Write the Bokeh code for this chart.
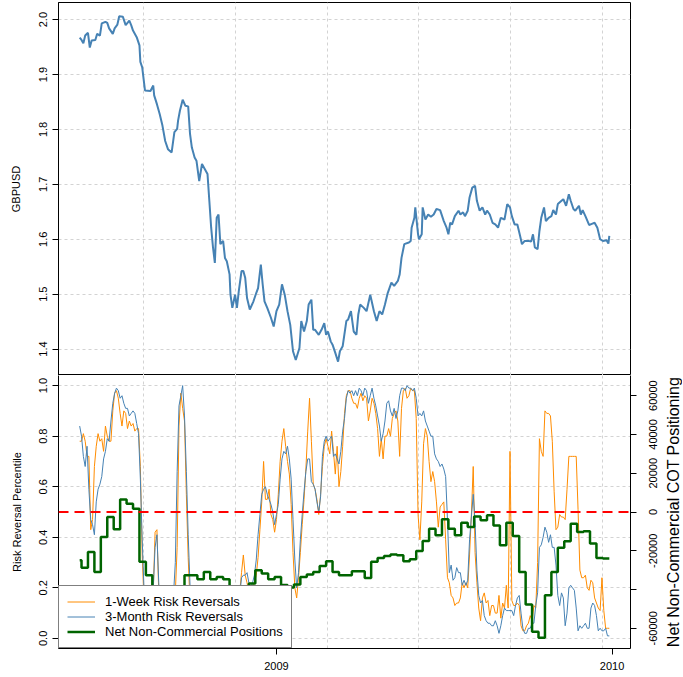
import math
import numpy as np
from bokeh.plotting import figure
from bokeh.models import (Range1d, LinearAxis, FixedTicker, Grid, Span, Legend, LegendItem,
                          PrintfTickFormatter, Spacer)
from bokeh.core.properties import value
from bokeh.layouts import column, row
from bokeh.embed import file_html
from bokeh.resources import INLINE

FONT = "Liberation Sans"

# ---------------- data ----------------
series_start = "2008-06-01"

# GBPUSD close: day offsets from series_start and values
gbp_offset_days = [
    0, 2, 4, 6, 9, 11, 13, 17, 19, 22, 24, 28, 30, 32, 36, 38, 41, 43, 47, 50,
    54, 56, 58, 62, 65, 66, 68, 71, 77, 80, 81, 84, 87, 90, 93, 96, 100, 103, 106, 107,
    109, 112, 115, 118, 120, 122, 125, 127, 130, 133, 136, 139, 141, 143, 145, 147, 149, 151, 153, 156,
    158, 160, 163, 164, 166, 169, 171, 173, 176, 178, 180, 182, 185, 189, 192, 194, 197, 199, 201, 204,
    208, 211, 214, 217, 220, 223, 226, 229, 232, 235, 239, 241, 244, 247, 249, 252, 254, 256, 260, 263,
    266, 268, 270, 273, 275, 278, 281, 283, 286, 290, 292, 295, 298, 301, 303, 305, 309, 312, 316, 320,
    323, 326, 329, 332, 335, 339, 342, 346, 348, 350, 353, 358, 360, 361, 364, 365, 368, 369, 372, 373,
    376, 379, 382, 385, 388, 392, 396, 399, 401, 403, 405, 408, 412, 414, 417, 419, 422, 424, 427, 430,
    432, 435, 438, 441, 443, 446, 449, 452, 455, 458, 462, 465, 468, 470, 473, 476, 479, 481, 484, 488,
    491, 493, 495, 498, 500, 502, 505, 507, 510, 513, 515, 518, 520, 524, 526, 529, 532, 534, 537, 539,
    543, 545, 547, 550, 554, 557, 560, 563, 566, 569, 573, 575, 576]
gbp_close = [
    1.967, 1.963, 1.957, 1.971, 1.976, 1.949, 1.962, 1.963, 1.974, 1.971, 1.993, 1.996, 1.994, 1.984, 1.974, 1.984, 1.991, 2.006, 2.005, 1.990,
    1.998, 1.990, 1.980, 1.968, 1.953, 1.923, 1.913, 1.871, 1.870, 1.880, 1.862, 1.846, 1.828, 1.807, 1.779, 1.764, 1.758, 1.795, 1.801, 1.816,
    1.834, 1.854, 1.843, 1.842, 1.792, 1.767, 1.749, 1.743, 1.706, 1.737, 1.728, 1.719, 1.670, 1.621, 1.585, 1.557, 1.639, 1.645, 1.591, 1.597,
    1.566, 1.560, 1.536, 1.499, 1.475, 1.499, 1.475, 1.505, 1.542, 1.542, 1.530, 1.493, 1.472, 1.487, 1.502, 1.511, 1.554, 1.518, 1.487, 1.475,
    1.457, 1.441, 1.469, 1.481, 1.518, 1.499, 1.469, 1.444, 1.396, 1.380, 1.402, 1.451, 1.432, 1.451, 1.481, 1.490, 1.435, 1.435, 1.426, 1.435,
    1.447, 1.426, 1.432, 1.414, 1.408, 1.393, 1.377, 1.396, 1.405, 1.451, 1.454, 1.469, 1.432, 1.426, 1.463, 1.481, 1.475, 1.469, 1.499, 1.469,
    1.451, 1.469, 1.463, 1.481, 1.502, 1.521, 1.515, 1.524, 1.536, 1.566, 1.591, 1.594, 1.597, 1.621, 1.639, 1.658, 1.609, 1.600, 1.609, 1.658,
    1.636, 1.645, 1.641, 1.645, 1.655, 1.653, 1.633, 1.621, 1.609, 1.630, 1.627, 1.642, 1.652, 1.645, 1.649, 1.642, 1.652, 1.676, 1.694, 1.697,
    1.670, 1.652, 1.658, 1.645, 1.652, 1.645, 1.630, 1.627, 1.621, 1.639, 1.636, 1.664, 1.658, 1.642, 1.627, 1.627, 1.606, 1.591, 1.597, 1.597,
    1.596, 1.609, 1.585, 1.582, 1.615, 1.639, 1.658, 1.633, 1.639, 1.642, 1.653, 1.645, 1.664, 1.670, 1.673, 1.661, 1.682, 1.670, 1.655, 1.652,
    1.661, 1.645, 1.653, 1.642, 1.626, 1.628, 1.630, 1.621, 1.600, 1.597, 1.598, 1.592, 1.606]

# Risk reversal percentiles, one reading every 2 days from series_start
rr_step_days = 2
rr_1week = [
    0.78, 0.78, 0.81, 0.78, 0.72, 0.72, 0.43, 0.47, 0.68, 0.76,
    0.81, 0.78, 0.79, 0.74, 0.84, 0.80, 0.78, 0.78, 0.90, 0.97,
    0.98, 0.95, 0.89, 0.84, 0.90, 0.89, 0.83, 0.86, 0.84, 0.85,
    0.82, 0.83, 0.83, 0.68, 0.33, 0.14, 0.07, 0.04, 0.05, 0.09,
    0.18, 0.42, 0.43, 0.18, 0.07, 0.04, 0.03, 0.05, 0.04, 0.07,
    0.09, 0.13, 0.18, 0.36, 0.84, 0.97, 0.91, 0.86, 0.57, 0.32,
    0.14, 0.08, 0.05, 0.03, 0.06, 0.10, 0.07, 0.04, 0.08, 0.12,
    0.09, 0.05, 0.03, 0.06, 0.10, 0.14, 0.08, 0.05, 0.07, 0.11,
    0.06, 0.04, 0.08, 0.12, 0.09, 0.14, 0.16, 0.18, 0.26, 0.33,
    0.25, 0.22, 0.18, 0.18, 0.20, 0.22, 0.25, 0.32, 0.43, 0.54,
    0.70, 0.55, 0.55, 0.59, 0.49, 0.47, 0.42, 0.47, 0.57, 0.70,
    0.78, 0.83, 0.76, 0.70, 0.65, 0.53, 0.34, 0.20, 0.16, 0.24,
    0.34, 0.45, 0.55, 0.67, 0.82, 0.95, 0.78, 0.61, 0.59, 0.55,
    0.49, 0.57, 0.68, 0.76, 0.79, 0.76, 0.73, 0.82, 0.74, 0.65,
    0.76, 0.60, 0.66, 0.76, 0.89, 0.96, 0.98,
    0.98, 0.95, 0.93, 0.93, 0.91, 0.95, 0.97, 0.94, 0.96, 0.95,
    0.86, 0.90, 0.95, 0.93, 0.89, 0.83, 0.72, 0.79, 0.71, 0.80,
    0.80, 0.83, 0.80, 0.87, 0.89, 0.90, 0.86, 0.72, 0.91, 0.98,
    0.99, 0.95, 0.96, 0.99, 0.98, 0.98, 0.87, 0.49, 0.39, 0.54,
    0.77, 0.83, 0.80, 0.70, 0.62, 0.66, 0.62, 0.54, 0.44, 0.52,
    0.53, 0.54, 0.39, 0.24, 0.22, 0.17, 0.16, 0.13, 0.14, 0.14,
    0.16, 0.22, 0.20, 0.22, 0.20, 0.33, 0.49, 0.68, 0.34, 0.22,
    0.12, 0.07, 0.16, 0.18, 0.14, 0.15, 0.09, 0.13, 0.13, 0.10,
    0.10, 0.17, 0.08, 0.14, 0.12, 0.21, 0.12, 0.74, 0.15, 0.13,
    0.13, 0.14, 0.13, 0.05, 0.03, 0.03, 0.05, 0.06, 0.09, 0.07,
    0.13, 0.12, 0.30, 0.79, 0.74, 0.72, 0.90, 0.89, 0.89, 0.88,
    0.78, 0.58, 0.43, 0.44, 0.49, 0.48, 0.48, 0.47, 0.59, 0.72,
    0.72, 0.72, 0.72, 0.72, 0.51, 0.27, 0.24, 0.24, 0.25, 0.20,
    0.19, 0.23, 0.22, 0.16, 0.14, 0.12, 0.11, 0.24, 0.11, 0.04,
    0.04, 0.04]
rr_3month = [
    0.84, 0.80, 0.72, 0.68, 0.76, 0.59, 0.47, 0.45, 0.41, 0.54,
    0.59, 0.61, 0.64, 0.71, 0.74, 0.79, 0.78, 0.86, 0.93, 0.97,
    0.99, 0.98, 0.95, 0.96, 0.93, 0.91, 0.91, 0.88, 0.89, 0.90,
    0.89, 0.85, 0.81, 0.63, 0.39, 0.19, 0.09, 0.05, 0.07, 0.12,
    0.20, 0.36, 0.41, 0.22, 0.09, 0.05, 0.04, 0.07, 0.05, 0.08,
    0.12, 0.17, 0.30, 0.66, 0.92, 0.96, 1.00, 0.88, 0.66, 0.41,
    0.21, 0.10, 0.06, 0.04, 0.05, 0.08, 0.09, 0.06, 0.07, 0.10,
    0.11, 0.07, 0.05, 0.04, 0.07, 0.11, 0.10, 0.06, 0.05, 0.09,
    0.08, 0.05, 0.06, 0.10, 0.11, 0.12, 0.15, 0.17, 0.24, 0.25,
    0.25, 0.26, 0.22, 0.20, 0.22, 0.25, 0.31, 0.41, 0.49, 0.57,
    0.59, 0.60, 0.57, 0.55, 0.53, 0.50, 0.45, 0.49, 0.53, 0.63,
    0.71, 0.74, 0.73, 0.76, 0.71, 0.63, 0.47, 0.31, 0.20, 0.26,
    0.39, 0.49, 0.58, 0.66, 0.71, 0.71, 0.62, 0.61, 0.59, 0.54,
    0.50, 0.56, 0.72, 0.78, 0.80, 0.78, 0.79, 0.80, 0.72, 0.73,
    0.71, 0.69, 0.74, 0.82, 0.87, 0.95, 0.98,
    0.97, 0.98, 0.96, 0.98, 0.96, 0.99, 0.98, 0.96, 0.99, 0.98,
    0.93, 0.96, 0.99, 0.95, 0.92, 0.88, 0.84, 0.78, 0.81, 0.86,
    0.93, 0.94, 0.90, 0.88, 0.91, 0.87, 0.90, 0.96, 0.99, 0.99,
    0.98, 1.00, 0.99, 0.99, 0.98, 0.99, 0.95, 0.88, 0.89, 0.88,
    0.90, 0.86, 0.84, 0.82, 0.80, 0.80, 0.73, 0.71, 0.70, 0.68,
    0.69, 0.67, 0.64, 0.47, 0.26, 0.29, 0.23, 0.24, 0.28, 0.26,
    0.26, 0.21, 0.23, 0.21, 0.23, 0.39, 0.48, 0.57, 0.46, 0.27,
    0.17, 0.14, 0.15, 0.09, 0.07, 0.06, 0.06, 0.05, 0.05, 0.07,
    0.05, 0.02, 0.05, 0.09, 0.12, 0.11, 0.11, 0.11, 0.11, 0.09,
    0.13, 0.16, 0.17, 0.10, 0.04, 0.02, 0.02, 0.04, 0.04, 0.06,
    0.06, 0.13, 0.18, 0.36, 0.37, 0.40, 0.44, 0.42, 0.38, 0.41,
    0.36, 0.36, 0.29, 0.17, 0.13, 0.18, 0.16, 0.05, 0.10, 0.20,
    0.21, 0.20, 0.19, 0.12, 0.03, 0.05, 0.04, 0.05, 0.06, 0.04,
    0.04, 0.12, 0.14, 0.13, 0.09, 0.03, 0.04, 0.03, 0.03, 0.04,
    0.01, 0.01]

# Weekly net non-commercial COT positions (contracts), first report date then every 7 days
cot_first_report = "2008-05-27"
cot_net = [
    -24900, -28800, -20600, -30900, -12900, -2600, -8900, 6500, 4300, 1700,
    -25700, -32600, -42900, -48000, -49800, -48000, -44600, -32600, -32600, -34700,
    -30900, -34700, -33500, -34700, -41200, -42900, -38600, -36900, -30000, -31700,
    -34700, -33500, -37700, -39000, -37400, -33500, -32200, -30900, -27800, -25400,
    -30900, -32600, -32600, -30500, -30500, -34000, -25700, -23700, -22700, -21900,
    -22300, -25400, -24400, -20100, -14900, -8600, -12000, -3800, -8600, -12000,
    -5500, -7700, -2300, -4300, -1700, -6900, -17200, -5500, -12400, -30900,
    -47700, -61800, -64800, -42900, -30900, -18500, -15100, -6000, -10300, -9900,
    -16300, -23700, -24000]

gbp_ticks = [1.4, 1.5, 1.6, 1.7, 1.8, 1.9, 2.0]
rr_ticks = [0.0, 0.2, 0.4, 0.6, 0.8, 1.0]
cot_ticks = [-60000, -40000, -20000, 0, 20000, 40000, 60000]
cot_unlabelled_ticks = [-40000]
year_tick_dates = ["2009-01-01", "2010-01-01"]
year_tick_labels = ["2009", "2010"]
neutral_percentile = 0.5
cot_axis_limit = 70400
cot_axis_title = "Net Non-Commercial COT Positioning"

# ---------------- derived x values ----------------
def to_day(d):
    return int(np.datetime64(d, "D").astype(np.int64))

start_day = to_day(series_start)
gbp_x = start_day + np.array(gbp_offset_days)
rr_x = start_day + rr_step_days * np.arange(len(rr_1week))
cot_x = to_day(cot_first_report) + 7 * np.arange(len(cot_net))
cot_x = np.maximum(cot_x, gbp_x[0])
cot_x = np.append(cot_x, gbp_x[-1])
cot_y = list(cot_net) + [cot_net[-1]]

x_lo, x_hi = int(gbp_x.min()), int(gbp_x.max())
x_pad = 0.04 * (x_hi - x_lo)
x_range = Range1d(x_lo - x_pad, x_hi + x_pad)
grid_days = [d for d in range(14000, 14800, 100) if x_lo - x_pad <= d <= x_hi + x_pad]

g_lo, g_hi = min(gbp_close), max(gbp_close)
g_pad = 0.04 * (g_hi - g_lo)

year_days = [to_day(d) for d in year_tick_dates]

# ---------------- layout constants ----------------
MAIN_W = 638          # frame 58..630 + 8px for right ticks
SIDE_W = 44
TOP_H = 375           # frame 2..375
BOT_H = 301           # frame 375..648 + labels
GRID_COLOR = "#d3d3d3"


def style_axis(ax):
    ax.axis_line_color = "black"
    ax.major_tick_line_color = "black"
    ax.minor_tick_line_color = None
    ax.major_tick_out = 6
    ax.major_tick_in = 0
    ax.major_label_text_font = FONT
    ax.major_label_text_font_size = "11px"
    ax.major_label_text_color = "black"
    ax.axis_label_text_font = FONT
    ax.axis_label_text_font_style = "normal"
    ax.axis_label_text_color = "black"
    ax.axis_label_text_font_size = "11px"


def add_grid(p, dim, ticks):
    g = Grid(dimension=dim, ticker=FixedTicker(ticks=ticks),
             grid_line_color=GRID_COLOR, grid_line_dash="3 3", grid_line_width=1)
    p.add_layout(g)


def base_fig(height, y_range, top, bottom, x_axis):
    p = figure(width=MAIN_W, height=height, x_range=x_range, y_range=y_range,
               x_axis_location=x_axis, toolbar_location=None, output_backend="svg",
               min_border_left=58, min_border_right=8,
               min_border_top=top, min_border_bottom=bottom)
    p.grid.visible = False
    p.outline_line_color = "black"
    p.outline_line_width = 1
    p.outline_line_alpha = 1
    p.background_fill_color = "white"
    p.border_fill_color = "white"
    return p


# ---------------- top panel: GBPUSD ----------------
p1 = base_fig(TOP_H, Range1d(g_lo - g_pad, g_hi + g_pad), 2, 0, None)
add_grid(p1, 0, grid_days)
add_grid(p1, 1, gbp_ticks)
p1.line(gbp_x, gbp_close, line_color="#4682B4", line_width=2)
ya = p1.yaxis[0]
style_axis(ya)
ya.ticker = FixedTicker(ticks=gbp_ticks)
ya.formatter = PrintfTickFormatter(format="%.1f")
ya.major_label_orientation = "parallel"
ya.major_label_standoff = 5
ya.axis_label = "GBPUSD"
ya.axis_label_standoff = 15

# ---------------- bottom panel: risk reversals + COT ----------------
p2 = base_fig(BOT_H, Range1d(-0.04, 1.04), 0, BOT_H - 273, "below")
# the top edge is the top panel's outline; the other three edges are the axis lines
p2.outline_line_color = None
p2.extra_y_ranges = {"cot": Range1d(-cot_axis_limit, cot_axis_limit)}
add_grid(p2, 0, grid_days)
add_grid(p2, 1, rr_ticks)

r_1w = p2.line(rr_x, rr_1week, line_color="#FF8C00", line_width=1)
r_3m = p2.line(rr_x, rr_3month, line_color="#4682B4", line_width=1)
p2.add_layout(Span(location=neutral_percentile, dimension="width",
                   line_color="#FF0000", line_width=2, line_dash="10 6"))
r_cot = p2.step(cot_x, cot_y, mode="after", y_range_name="cot",
                line_color="#006400", line_width=2.5)

la = p2.yaxis[0]
style_axis(la)
la.ticker = FixedTicker(ticks=rr_ticks)
la.formatter = PrintfTickFormatter(format="%.1f")
la.major_label_orientation = "parallel"
la.major_label_standoff = 5
la.axis_label = "Risk Reversal Percentile"
la.axis_label_standoff = 14

xa = p2.xaxis[0]
style_axis(xa)
xa.ticker = FixedTicker(ticks=year_days)
xa.major_label_overrides = {d: lab for d, lab in zip(year_days, year_tick_labels)}
xa.major_label_standoff = 7

# right axis: tick marks only (its labels are drawn in the side strip)
ra = LinearAxis(y_range_name="cot", ticker=FixedTicker(ticks=cot_ticks))
style_axis(ra)
ra.major_label_overrides = {t: "" for t in cot_ticks}
ra.major_label_text_font_size = "0px"
ra.major_label_standoff = 0
p2.add_layout(ra, "right")

legend = Legend(items=[
    LegendItem(label="1-Week Risk Reversals", renderers=[r_1w]),
    LegendItem(label="3-Month Risk Reversals", renderers=[r_3m]),
    LegendItem(label="Net Non-Commercial Positions", renderers=[r_cot]),
], location="bottom_left")
legend.margin = 0
legend.padding = 8
legend.spacing = 0
legend.glyph_width = 28
legend.glyph_height = 15
legend.label_height = 15
legend.label_standoff = 10
legend.label_text_font = FONT
legend.label_text_font_size = "13px"
legend.label_text_color = "black"
legend.border_line_color = "black"
legend.border_line_width = 1
legend.background_fill_color = "white"
legend.background_fill_alpha = 1
p2.add_layout(legend)

# ---------------- side strip: right axis labels and title (read bottom to top) ----------------
side = figure(width=SIDE_W, height=BOT_H, x_range=Range1d(0, SIDE_W),
              y_range=p2.extra_y_ranges["cot"],
              x_axis_location=None, y_axis_location=None,
              toolbar_location=None, output_backend="svg",
              min_border_left=0, min_border_right=0, min_border_top=0,
              min_border_bottom=BOT_H - 273)
side.grid.visible = False
side.outline_line_color = None
side.background_fill_color = "white"
side.border_fill_color = "white"
lab_ticks = [t for t in cot_ticks if t not in cot_unlabelled_ticks]
side.text(x=[14] * len(lab_ticks), y=lab_ticks, text=[str(t) for t in lab_ticks],
          angle=math.pi / 2, text_align="center", text_baseline="middle",
          text_font=value(FONT), text_font_size="11px", text_color="black")
side.text(x=[35], y=[0], text=[cot_axis_title],
          angle=math.pi / 2, text_align="center", text_baseline="middle",
          text_font=value(FONT), text_font_size="16px", text_color="black")

layout = row(column(p1, p2, spacing=0),
             column(Spacer(width=SIDE_W, height=TOP_H), side, spacing=0),
             spacing=0)
open("out.html", "w").write(file_html(layout, INLINE))
